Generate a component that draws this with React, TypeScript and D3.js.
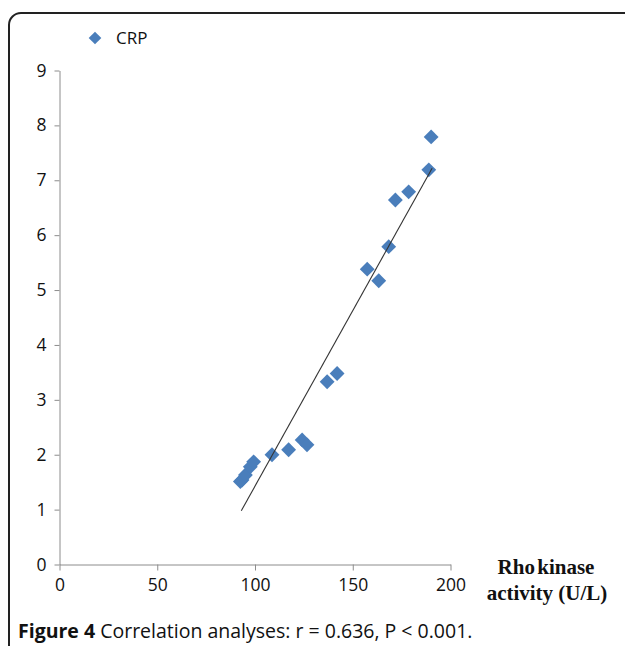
import React, { useRef, useEffect } from "react";
import * as d3 from "d3";

// values
const rhoKinase = [92.5, 93.4, 95.1, 97.6, 99.3, 108.7, 117.2, 124.1, 126.6, 136.9, 142.0, 157.4, 163.3, 168.4, 171.8, 178.6, 188.9, 190.1];
const crp = [1.51, 1.54, 1.63, 1.78, 1.87, 2.0, 2.09, 2.27, 2.18, 3.33, 3.48, 5.38, 5.17, 5.79, 6.64, 6.79, 7.19, 7.79];
const trendX = [93.0, 190.6];
const trendY = [0.98, 7.22];
const xTicks = [0, 50, 100, 150, 200];
const yTicks = [0, 1, 2, 3, 4, 5, 6, 7, 8, 9];
const seriesName = "CRP";

const App = () => {
   const svgRef = useRef<SVGSVGElement>(null);

   useEffect(() => {
      const svg = d3.select(svgRef.current);
      svg.selectAll("*").remove();

      const blue = "#4a7ebb";
      const axisColor = "#8c8c8c";
      const font = "'Open Sans', 'Noto Sans', sans-serif";

      // outer frame, runs off the right and bottom edge
      svg.append("rect")
         .attr("x", 9)
         .attr("y", 13)
         .attr("width", 660)
         .attr("height", 680)
         .attr("rx", 12)
         .attr("fill", "none")
         .attr("stroke", "#222")
         .attr("stroke-width", 2);

      const xScale = d3.scaleLinear().domain([0, 200]).range([59.5, 450.5]);
      const yScale = d3.scaleLinear().domain([0, 9]).range([564.5, 70.5]);

      // x axis
      const gx = svg.append("g")
         .attr("transform", `translate(0,${yScale(0)})`)
         .call(d3.axisBottom(xScale).tickValues(xTicks).tickSize(6).tickSizeOuter(0).tickPadding(8));
      gx.select(".domain").attr("stroke", axisColor);
      gx.selectAll(".tick line").attr("stroke", axisColor);
      gx.selectAll(".tick text")
         .attr("fill", "#111")
         .attr("font-size", 17.5)
         .attr("font-family", font);

      // y axis
      const gy = svg.append("g")
         .attr("transform", `translate(${xScale(0)},0)`)
         .call(d3.axisLeft(yScale).tickValues(yTicks).tickSize(5).tickSizeOuter(0).tickPadding(8));
      gy.select(".domain").attr("stroke", axisColor);
      gy.selectAll(".tick line").attr("stroke", axisColor);
      gy.selectAll(".tick text")
         .attr("fill", "#111")
         .attr("font-size", 17.5)
         .attr("font-family", font);

      // data points as diamonds
      const diamond = d3.symbol().type(d3.symbolSquare).size(110);
      svg.append("g")
         .selectAll("path")
         .data(rhoKinase.map((x, i) => ({ x, y: crp[i] })))
         .join("path")
         .attr("d", diamond)
         .attr("transform", (d) => `translate(${xScale(d.x)},${yScale(d.y)}) rotate(45)`)
         .attr("fill", blue);

      // linear trend line
      const line = d3.line<number>()
         .x((d) => xScale(d))
         .y((d, i) => yScale(trendY[i]));
      svg.append("path")
         .attr("d", line(trendX))
         .attr("fill", "none")
         .attr("stroke", "#333")
         .attr("stroke-width", 1.1);

      // legend
      svg.append("path")
         .attr("d", d3.symbol().type(d3.symbolSquare).size(80)())
         .attr("transform", "translate(95,38) rotate(45)")
         .attr("fill", blue);
      svg.append("text")
         .attr("x", 116)
         .attr("y", 44)
         .attr("font-size", 17)
         .attr("font-family", font)
         .attr("fill", "#111")
         .text(seriesName);

      // x axis title
      const title = svg.append("text")
         .attr("text-anchor", "middle")
         .attr("font-family", "'Liberation Serif', 'Times New Roman', serif")
         .attr("font-weight", "bold")
         .attr("font-size", 21)
         .attr("fill", "#111");
      title.append("tspan").attr("x", 546).attr("y", 574).attr("word-spacing", -3).text("Rho kinase");
      title.append("tspan").attr("x", 547).attr("y", 600).text("activity (U/L)");

      // figure caption
      const cap = svg.append("text")
         .attr("x", 18)
         .attr("y", 638)
         .attr("font-family", font)
         .attr("font-size", 19.5)
         .attr("fill", "#111");
      cap.append("tspan").attr("font-weight", "bold").text("Figure 4");
      cap.append("tspan").text(" Correlation analyses: r = 0.636, P < 0.001.");
   }, []);

   return (
      <svg
         ref={svgRef}
         width='625'
         height='646'
         style={{ position: "absolute", left: 0, top: 0, background: "#fff" }}
      />
   );
};

export default App;
